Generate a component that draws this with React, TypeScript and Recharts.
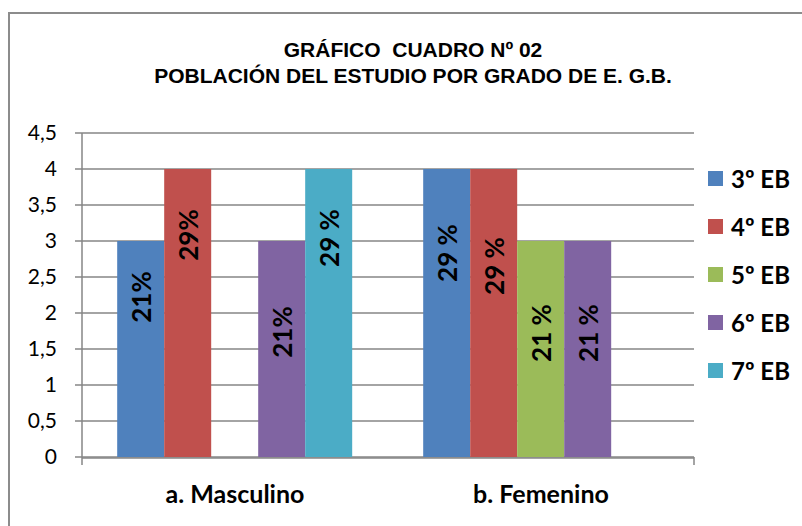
import React from "react";
import { BarChart, Bar, XAxis, YAxis, CartesianGrid, LabelList } from "recharts";

const categories = ["a. Masculino", "b. Femenino"];
const seriesNames = ["3º EB", "4º EB", "5º EB", "6º EB", "7º EB"];
const s3 = [3, 4];
const s4 = [4, 4];
const s5 = [null, 3];
const s6 = [3, 3];
const s7 = [4, null];
const l3 = ["21%", "29 %"];
const l4 = ["29%", "29 %"];
const l5 = ["", "21 %"];
const l6 = ["21%", "21 %"];
const l7 = ["29 %", ""];
const yTicks = [0, 0.5, 1, 1.5, 2, 2.5, 3, 3.5, 4, 4.5];
const boundaryTicks = [0, 1, 2];
const titleLines = ["GRÁFICO  CUADRO Nº 02", "POBLACIÓN DEL ESTUDIO POR GRADO DE E. G.B."];

const values = [s3, s4, s5, s6, s7];
const labels = [l3, l4, l5, l6, l7];

const data = categories.map((c, i) => {
  const row: any = { cat: c };
  seriesNames.forEach((_, k) => {
    row["v" + k] = values[k][i];
    row["l" + k] = labels[k][i];
  });
  return row;
});

// style
const COLORS = ["#4f81bd", "#c0504d", "#9bbb59", "#8064a2", "#4bacc6"];
const LABEL_OFFSET: Record<string, number>[] = [
  { "21%": 56, "29 %": 84 },
  { "29%": 66, "29 %": 97 },
  { "21 %": 92 },
  { "21%": 91, "21 %": 92 },
  { "29 %": 69 },
];
const GRID = "#868686";
const FONT = "Lato, 'Open Sans', sans-serif";

const makeLabel = (k: number) => (props: any) => {
  const { x, y, width, value } = props;
  if (!value) return null;
  const cx = x + width / 2;
  const cy = y + (LABEL_OFFSET[k][value] ?? 80);
  return (
    <text
      x={cx}
      y={cy}
      transform={`rotate(-90 ${cx} ${cy})`}
      textAnchor="middle"
      dominantBaseline="central"
      fontFamily={FONT}
      fontWeight="bold"
      fontSize={26}
      fill="#000"
    >
      {value}
    </text>
  );
};

const BoundaryTick = (props: any) => <g />;

export default function App() {
  return (
    <div style={{ position: "fixed", left: 0, top: 0, width: 802, height: 526, overflow: "hidden", background: "#fff" }}>
      <div style={{ position: "absolute", left: 8, top: 12, width: 900, height: 700, border: "2px solid #8c8c8c", boxSizing: "border-box" }} />
      <div style={{ position: "absolute", left: 0, top: 37, width: 826, textAlign: "center", fontFamily: "'Liberation Sans', Arial, sans-serif", fontWeight: "bold", fontSize: 21, lineHeight: "26px", color: "#000", whiteSpace: "pre" }}>
        {titleLines.map((t, i) => (
          <div key={i}>{t}</div>
        ))}
      </div>
      <div style={{ position: "absolute", left: 0, top: 0 }}>
        <BarChart width={802} height={526} data={data} margin={{ top: 133, right: 108, bottom: 9, left: 0 }} barCategoryGap="11.5%" barGap={0}>
          <CartesianGrid xAxisId="x" vertical={false} stroke={GRID} strokeWidth={1.5} />
          <XAxis xAxisId="a" type="number" domain={[0, 2]} ticks={boundaryTicks} interval={0} tick={BoundaryTick} axisLine={false} tickLine={{ stroke: GRID, strokeWidth: 1.5 }} tickSize={8} height={1} allowDataOverflow />
          <XAxis
            xAxisId="x"
            dataKey="cat"
            height={59}
            axisLine={{ stroke: GRID, strokeWidth: 1.5 }}
            tickLine={false}
            tick={{ fill: "#000", fontFamily: FONT, fontWeight: "bold", fontSize: 25 }}
            tickMargin={21}
          />
          <YAxis
            width={82}
            domain={[0, 4.5]}
            ticks={yTicks}
            interval={0}
            tickFormatter={(v: number) => String(v).replace(".", ",")}
            axisLine={{ stroke: GRID, strokeWidth: 1.5 }}
            tickLine={{ stroke: GRID, strokeWidth: 1.5 }}
            tickSize={7}
            tickMargin={18}
            tick={{ fill: "#000", fontFamily: FONT, fontSize: 21 }}
          />
          {seriesNames.map((n, k) => (
            <Bar key={n} xAxisId="x" dataKey={"v" + k} name={n} fill={COLORS[k]} isAnimationActive={false}>
              <LabelList dataKey={"l" + k} content={makeLabel(k)} />
            </Bar>
          ))}
        </BarChart>
      </div>
      <div style={{ position: "absolute", left: 708, top: 154 }}>
        {seriesNames.map((n, k) => (
          <div key={n} style={{ display: "flex", alignItems: "center", height: 48, fontFamily: FONT, fontWeight: "bold", fontSize: 24, color: "#000" }}>
            <span style={{ display: "inline-block", width: 15, height: 15, background: COLORS[k], marginRight: 8 }} />
            <span>{n}</span>
          </div>
        ))}
      </div>
    </div>
  );
}
